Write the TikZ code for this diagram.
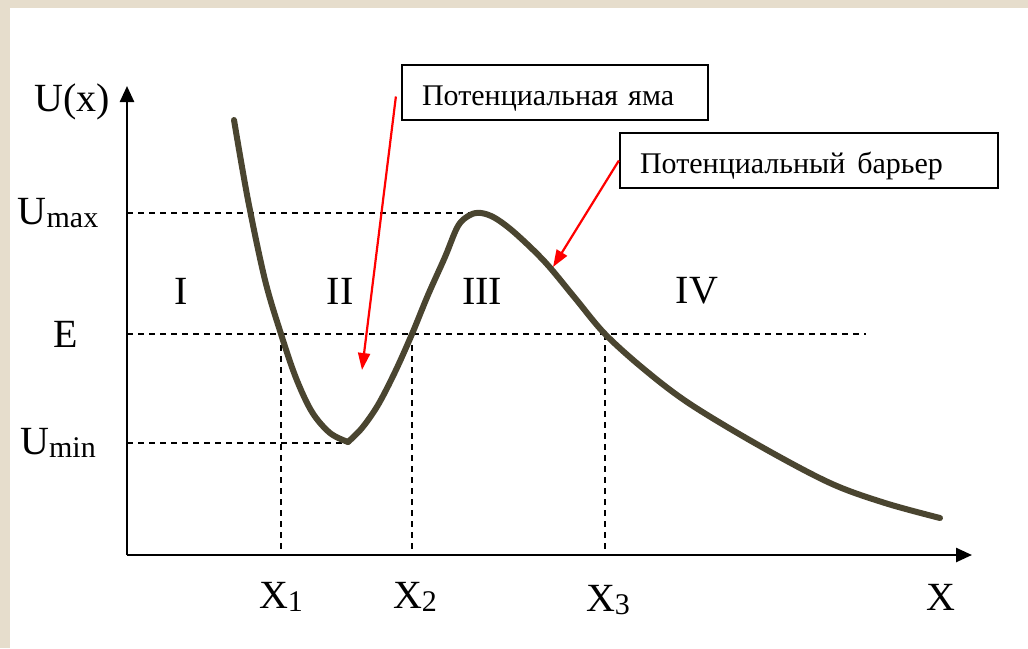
\documentclass[tikz,border=0pt]{standalone}
\usepackage{fontspec}
\setmainfont{Liberation Serif}
\usetikzlibrary{arrows.meta}
\definecolor{beige}{HTML}{E6DDCC}
\definecolor{curvecol}{HTML}{4A4530}
\tikzset{
  axis/.style={line width=2.5pt,-{Triangle[length=16pt,width=14pt]}},
  guide/.style={line width=1.8pt,dash pattern=on 6pt off 5pt},
  curve/.style={line width=6pt,curvecol,line cap=round,line join=round},
  pointer/.style={red,line width=2.2pt,-{Triangle[length=17pt,width=12pt]}},
  lbl/.style={font=\fontsize{40}{40}\selectfont,inner sep=0pt},
  region/.style={font=\fontsize{40}{40}\selectfont,inner sep=0pt},
  callout/.style={draw,line width=2.2pt,font=\fontsize{30}{30}\selectfont,minimum height=55pt,inner xsep=20pt,inner ysep=0pt,align=left,text height=29pt,text depth=3pt}
}
\newcommand{\sbs}[1]{\raisebox{-3pt}{\fontsize{30}{30}\selectfont #1}}
\begin{document}
\begin{tikzpicture}[x=1pt,y=-1pt]
\useasboundingbox (0,0) rectangle (1028,648);
\fill[beige] (0,0) rectangle (1028,648);
\fill[white] (10,8) rectangle (1028,648);
% coordinates
\coordinate (O) at (127,555);
\coordinate (ytip) at (127,86);
\coordinate (xtip) at (972,555);
\coordinate (umaxL) at (127,213);
\coordinate (umaxR) at (481,213);
\coordinate (eL) at (127,334);
\coordinate (eR) at (866,334);
\coordinate (uminL) at (127,443);
\coordinate (uminR) at (348,443);
\coordinate (x1t) at (281,334);
\coordinate (x1b) at (281,555);
\coordinate (x2t) at (412,334);
\coordinate (x2b) at (412,555);
\coordinate (x3t) at (605,334);
\coordinate (x3b) at (605,555);
\coordinate (tipA) at (362,370);
\coordinate (tipB) at (553,267);
% guides
\draw[guide] (umaxL) -- (umaxR);
\draw[guide] (eL) -- (eR);
\draw[guide] (uminL) -- (uminR);
\draw[guide] (x1t) -- (x1b);
\draw[guide] (x2t) -- (x2b);
\draw[guide] (x3t) -- (x3b);
% axes
\draw[axis] (O) -- (ytip);
\draw[axis] (O) -- (xtip);
% curve
\draw[curve] plot[smooth,tension=0.55] coordinates {(234,120) (248,200) (265,280) (281,334) (296,378) (312,412) (330,433) (348,442)};
\draw[curve] plot[smooth,tension=0.55] coordinates {(348,442) (362,428) (378,405) (395,372) (412,334) (428,295) (445,257) (458,226) (470,215) (481,213) (495,218) (515,233) (545,262) (575,298) (605,334) (645,370) (690,404) (760,446) (830,483) (885,503) (940,518)};
% labels
\node[lbl] (ux) at (72,102) {U(x)};
\node[lbl] (umax) at (58,213) {U\sbs{max}};
\node[lbl] (e) at (66,334) {E};
\node[lbl] (umin) at (58,443) {U\sbs{min}};
\node[region] (r1) at (181,291) {I};
\node[region] (r2) at (340,291) {II};
\node[region] (r3) at (482,291) {III};
\node[region] (r4) at (697,291) {IV};
\node[lbl] (lx1) at (281,597) {X\sbs{1}};
\node[lbl] (lx2) at (415,597) {X\sbs{2}};
\node[lbl] (lx3) at (608,600) {X\sbs{3}};
\node[lbl] (lx) at (941,597) {X};
% callouts
\node[callout,minimum width=306pt,text width=266pt] (yama) at (555,92.5) {Потенциальная яма};
\node[callout,minimum width=378pt,text width=338pt] (bar) at (809,160.5) {Потенциальный\kern12pt барьер};
\draw[pointer] ([xshift=-5pt,yshift=-4pt]yama.west) -- (tipA);
\draw[pointer] (bar.west) -- (tipB);
\end{tikzpicture}
\end{document}
